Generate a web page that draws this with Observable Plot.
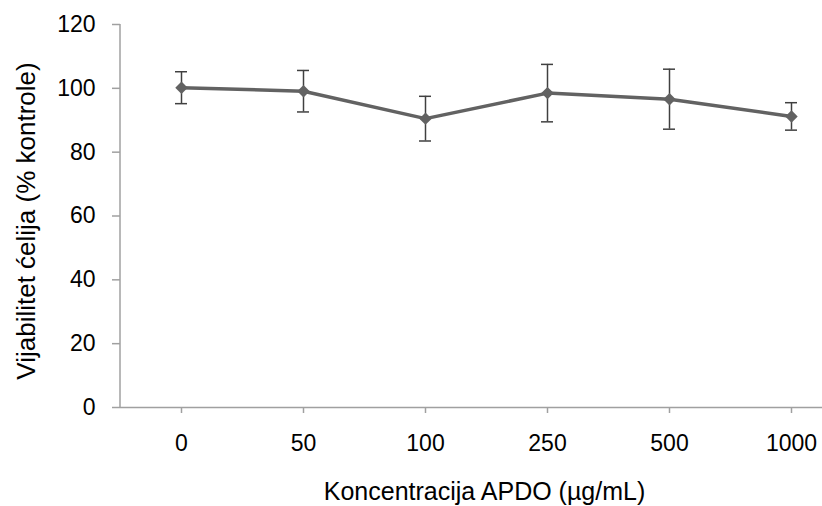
<!DOCTYPE html>
<html>
<head>
<meta charset="utf-8">
<script src="https://cdn.jsdelivr.net/npm/d3@7"></script>
<script src="https://cdn.jsdelivr.net/npm/@observablehq/plot@0.6"></script>
<style>
  html, body { margin: 0; padding: 0; background: #fff; }
  #chart svg { display: block; }
</style>
</head>
<body>
<div id="chart"></div>
<script>
const concentrations = ["0", "50", "100", "250", "500", "1000"];
const viability = [100.2, 99.1, 90.5, 98.5, 96.6, 91.2];
const errors = [5.0, 6.5, 7.0, 9.0, 9.4, 4.3];
const yTicks = [0, 20, 40, 60, 80, 100, 120];
const xTitle = "Koncentracija APDO (µg/mL)";
const yTitle = "Vijabilitet ćelija (% kontrole)";

const data = concentrations.map((c, i) => ({
  c, v: viability[i], lo: viability[i] - errors[i], hi: viability[i] + errors[i]
}));

const font = "Liberation Sans, Arial, sans-serif";
const axisColor = "#a0a0a0";

const leftLine = (index, scales, values, dim) => {
  const g = d3.create("svg:g");
  g.append("line")
    .attr("x1", dim.marginLeft).attr("x2", dim.marginLeft)
    .attr("y1", dim.marginTop).attr("y2", dim.height - dim.marginBottom)
    .attr("stroke", axisColor).attr("stroke-width", 1.5);
  return g.node();
};

const chart = Plot.plot({
  width: 822,
  height: 506,
  marginLeft: 120,
  marginRight: 0,
  marginTop: 24,
  marginBottom: 99,
  style: { fontFamily: font, background: "#fff", color: "#000" },
  x: { type: "point", domain: concentrations, range: [181, 791.5], padding: 0, axis: null },
  y: { domain: [0, 120], axis: null },
  marks: [
    Plot.ruleY([0], { stroke: axisColor, strokeWidth: 1.5 }),
    leftLine,
    Plot.axisY(yTicks, {
      tickSize: 8, tickPadding: 17, fontSize: 23, stroke: axisColor, strokeWidth: 1.5,
      label: null, fill: "#000"
    }),
    Plot.axisX(concentrations, {
      tickSize: 6, tickPadding: 21, fontSize: 23, stroke: axisColor, strokeWidth: 1.5,
      label: null, fill: "#000"
    }),
    Plot.ruleX(data, { x: "c", y1: "lo", y2: "hi", stroke: "#404040", strokeWidth: 1.5 }),
    Plot.ruleY(data, { x1: "c", x2: "c", y: "hi", stroke: "#404040", strokeWidth: 1.5, insetLeft: -6, insetRight: -6 }),
    Plot.ruleY(data, { x1: "c", x2: "c", y: "lo", stroke: "#404040", strokeWidth: 1.5, insetLeft: -6, insetRight: -6 }),
    Plot.line(data, { x: "c", y: "v", stroke: "#626262", strokeWidth: 3.5 }),
    Plot.dot(data, { x: "c", y: "v", symbol: "diamond2", r: 5.6, fill: "#626262", stroke: "none" }),
    Plot.text([xTitle], { frameAnchor: "bottom", textAnchor: "middle", lineAnchor: "top", dy: 75, dx: 13, fontSize: 25, fill: "#000" }),
    Plot.text([yTitle], { frameAnchor: "left", textAnchor: "middle", lineAnchor: "middle", rotate: -90, dx: -94, dy: 5, fontSize: 26, fill: "#000" })
  ]
});

document.getElementById("chart").appendChild(chart);
</script>
</body>
</html>
